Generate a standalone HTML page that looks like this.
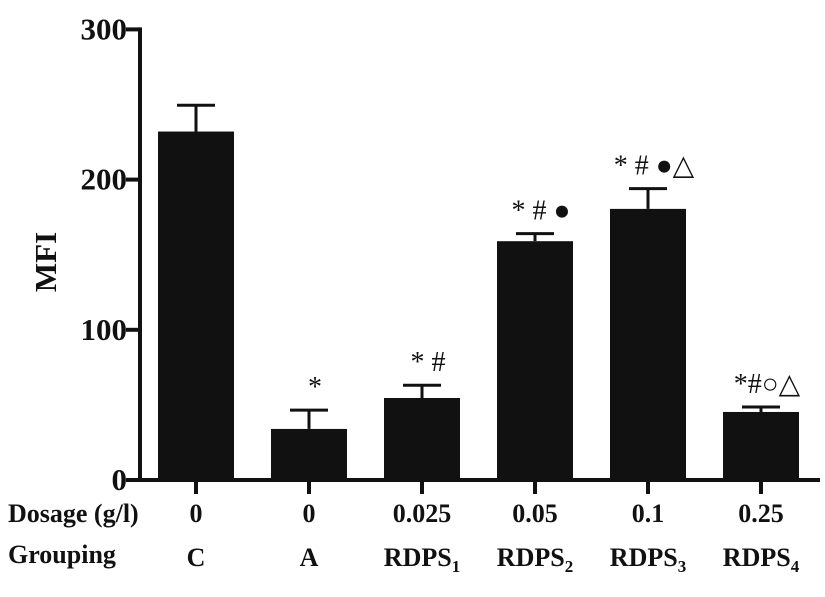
<!DOCTYPE html>
<html><head><meta charset="utf-8"><style>
html,body{margin:0;padding:0;background:#fff;}
svg text{font-family:"Liberation Serif",serif;}
</style></head><body>
<svg id="chart" width="825" height="592" viewBox="0 0 825 592" xmlns="http://www.w3.org/2000/svg">
<g id="axes"></g><g id="bars"></g><g id="labels"></g>
</svg>
<script>
const groups = ["C","A","RDPS1","RDPS2","RDPS3","RDPS4"];
const dosages = ["0","0","0.025","0.05","0.1","0.25"];
const values = [232,34,54.6,159,180.5,45.3];
const errors = [17.5,12.5,8.5,5,13.5,3.3];
const marks = ["","*","* #","* # ●","* # ●△","*#○△"];
const yTicks = [0,100,200,300];

const NS="http://www.w3.org/2000/svg";
const x0=140, xEnd=820, y0=480, pxPer=1.502, step=113, firstC=196, barW=76;
const y = v => y0 - v*pxPer;
const xc = i => firstC + i*step;
function mk(tag, attrs, parent){const e=document.createElementNS(NS,tag);for(const k in attrs)e.setAttribute(k,attrs[k]);parent.appendChild(e);return e;}
const axes=document.getElementById('axes'), bars=document.getElementById('bars'), labels=document.getElementById('labels');

let a=mk('line',{x1:x0,y1:y(300)-2,x2:x0,y2:y0+2,stroke:'#111','stroke-width':4},axes);


a=mk('line',{x1:x0-2,y1:y0,x2:xEnd,y2:y0,stroke:'#111','stroke-width':4},axes);


yTicks.forEach(t=>{
  const l=mk('line',{x1:x0-14,y1:y(t),x2:x0,y2:y(t),stroke:'#111','stroke-width':4},axes);
  
  
  const tx=mk('text',{x:x0-13,y:y(t)+10,'text-anchor':'end','font-size':31,'font-weight':'bold',fill:'#111'},axes);
  tx.textContent=t;
  
  
});
const yt=mk('text',{x:0,y:0,transform:'translate(56,262) rotate(-90)','text-anchor':'middle','font-size':31,'font-weight':'bold',fill:'#111'},axes);
yt.textContent='MFI';



groups.forEach((g,i)=>{
  const cx=xc(i);
  const r=mk('rect',{x:cx-barW/2,y:y(values[i]),width:barW,height:y0-y(values[i]),fill:'#111'},bars);
  
  
  const e=mk('path',{d:`M${cx},${y(values[i])} V${y(values[i]+errors[i])} M${cx-19},${y(values[i]+errors[i])} H${cx+19}`,stroke:'#111','stroke-width':3,fill:'none'},bars);
  
  
  const tk=mk('line',{x1:cx,y1:y0,x2:cx,y2:y0+14,stroke:'#111','stroke-width':4},axes);
  
  
  if(marks[i]){
    const m=mk('text',{x:cx+6,y:y(values[i]+errors[i])-14,'text-anchor':'middle','font-size':28,fill:'#111'},labels);
    m.textContent=marks[i];
    
    
  }
  const d=mk('text',{x:cx,y:522,'text-anchor':'middle','font-size':26,'font-weight':'bold',fill:'#111'},labels);
  d.textContent=dosages[i];
  
  
  const gl=mk('text',{x:cx,y:566,'text-anchor':'middle','font-size':26,'font-weight':'bold',fill:'#111'},labels);
  const mm=g.match(/^(RDPS)(\d)$/);
  if(mm){gl.textContent=mm[1];const s=mk('tspan',{'font-size':17,dy:6},gl);s.textContent=mm[2];}
  else gl.textContent=g;
  
  
});
let t=mk('text',{x:8,y:522,'font-size':26,'font-weight':'bold',fill:'#111'},labels);
t.textContent='Dosage (g/l)';


t=mk('text',{x:8,y:563,'font-size':26,'font-weight':'bold',fill:'#111'},labels);
t.textContent='Grouping';


</script>
</body></html>
